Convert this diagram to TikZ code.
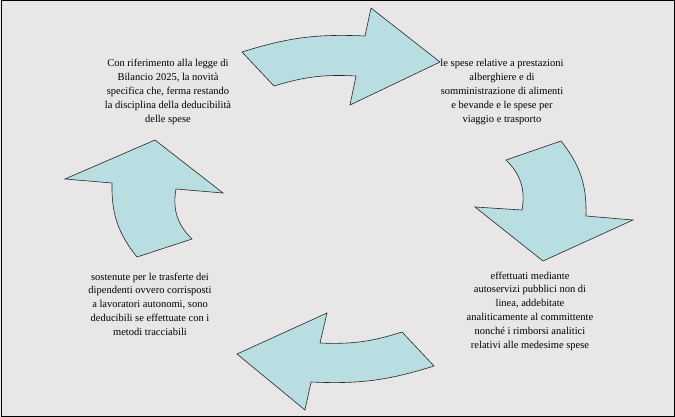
\documentclass[tikz,border=0pt]{standalone}
\usepackage{fontspec}
\setmainfont{Liberation Serif}
\usetikzlibrary{positioning}

\definecolor{bgcolor}{HTML}{E8E6E6}
\definecolor{arrowfill}{HTML}{B8DEE2}

\begin{document}
\begin{tikzpicture}[x=1pt, y=-1pt,
    cyclearrow/.style={fill=arrowfill, draw=black!85, line width=0.6pt, line join=miter},
    cycletext/.style={align=center, font=\fontsize{10.5}{13.8}\selectfont, inner sep=0pt}]
        % Frame
        \fill[bgcolor] (0,0) rectangle (675,417);
        \draw[line width=1pt] (1,1) rectangle (674,416);
        \useasboundingbox (0,0) rectangle (675,417);
        
        % Arrows
        \draw[cyclearrow] (242,52) to[bend left=10] (365,36) -- (371,8) -- (440,62)
            -- (350,105) -- (356,76) to[bend right=10] (274,86) -- cycle;
        \draw[cyclearrow] (506,160) -- (561,141) to[bend left=20] (586,216) -- (633,220)
            -- (543,261) -- (475,207) -- (522,210) to[bend right=28] cycle;
        \draw[cyclearrow] (402,332) -- (434,366) to[bend left=10] (311,382) -- (305,410)
            -- (237,354) -- (327,313) -- (320,343) to[bend right=10] cycle;
        \draw[cyclearrow] (137,257) -- (192,239) to[bend left=28] (176,189) -- (223,193)
            -- (155,140) -- (65,179) -- (112,183) to[bend right=20] cycle;
        
        % Texts
        \node[cycletext] (legge) at (168,92) {Con riferimento alla legge di\\Bilancio 2025, la novità\\specifica che, ferma restando\\la disciplina della deducibilità\\delle spese};
        \node[cycletext] (spese) at (502,92) {le spese relative a prestazioni\\alberghiere e di\\somministrazione di alimenti\\e bevande e le spese per\\viaggio e trasporto};
        \node[cycletext] (servizi) at (530,311) {effettuati mediante\\autoservizi pubblici non di\\linea, addebitate\\analiticamente al committente\\nonché i rimborsi analitici\\relativi alle medesime spese};
        \node[cycletext] (trasferte) at (150,304) {sostenute per le trasferte dei\\dipendenti ovvero corrisposti\\a lavoratori autonomi, sono\\deducibili se effettuate con i\\metodi tracciabili};
\end{tikzpicture}
\end{document}
